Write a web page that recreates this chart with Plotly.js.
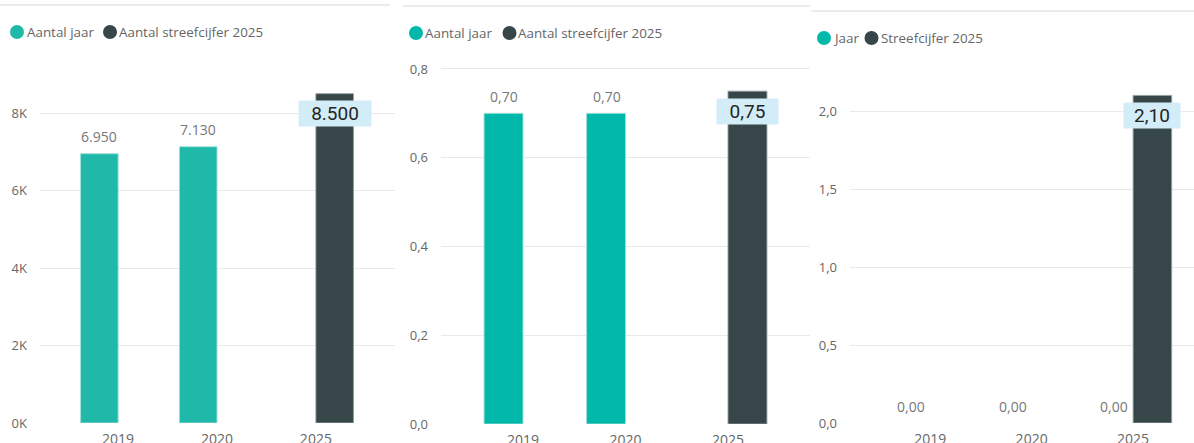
<!DOCTYPE html>
<html>
<head>
<meta charset="utf-8">
<script src="https://cdn.plot.ly/plotly-3.0.1.min.js"></script>
<style>
html,body{margin:0;padding:0;background:#fff;}
#chart{width:1194px;height:443px;}
</style>
</head>
<body>
<div id="chart"></div>
<script>
// ---- data ----
const categories = ['2019', '2020', '2025'];

const p1Names = ['Aantal jaar', 'Aantal streefcijfer 2025'];
const p1Jaar = [6950, 7130, null];
const p1Streef = [null, null, 8500];
const p1TickVals = [0, 2000, 4000, 6000, 8000];
const p1TickText = ['0K', '2K', '4K', '6K', '8K'];

const p2Names = ['Aantal jaar', 'Aantal streefcijfer 2025'];
const p2Jaar = [0.70, 0.70, null];
const p2Streef = [null, null, 0.75];
const p2TickVals = [0, 0.2, 0.4, 0.6, 0.8];

const p3Names = ['Jaar', 'Streefcijfer 2025'];
const p3Jaar = [0, 0, 0];
const p3Streef = [null, null, 2.10];
const p3TickVals = [0, 0.5, 1.0, 1.5, 2.0];

// ---- helpers ----
const fmtThousands = v => Math.round(v).toString().replace(/\B(?=(\d{3})+(?!\d))/g, '.');
const fmtDec2 = v => v.toFixed(2).replace('.', ',');
const fmtDec1 = v => v.toFixed(1).replace('.', ',');

const W = 1194, H = 443;
const px = x => x / W;
const py = y => (H - y) / H;

const FONT = 'Open Sans, Noto Sans, sans-serif';
const GRAY = '#666666';
const TEAL1 = '#20b9a9';
const TEAL = '#01b8aa';
const DARK = '#374649';

const panels = [
  {names: p1Names, jaar: p1Jaar, streef: p1Streef, teal: TEAL1, fmt: fmtThousands,
   xd: [px(40), px(395)], xr: [-0.79, 2.80], yd: [py(423), py(74.25)], yr: [0, 9000],
   tickvals: p1TickVals, ticktext: p1TickText, boxW: 70,
   legend: {y: 32, c1: 17, t1: 25, c2: 110, t2: 117}, topLine: {y: 5, x0: 0, x1: 390}},
  {names: p2Names, jaar: p2Jaar, streef: p2Streef, teal: TEAL, fmt: fmtDec2,
   xd: [px(441), px(810)], xr: [-0.80, 2.80], yd: [py(424), py(60.1)], yr: [0, 0.82],
   tickvals: p2TickVals, ticktext: p2TickVals.map(fmtDec1), boxW: 59,
   legend: {y: 33, c1: 416, t1: 423, c2: 509.5, t2: 516}, topLine: {y: 6, x0: 403, x1: 810}},
  {names: p3Names, jaar: p3Jaar, streef: p3Streef, teal: TEAL, fmt: fmtDec2,
   xd: [px(850), 1], xr: [-0.79, 2.60], yd: [py(423), py(64.2)], yr: [0, 2.3],
   tickvals: p3TickVals, ticktext: p3TickVals.map(fmtDec1), boxW: 54,
   legend: {y: 38, c1: 824, t1: 831, c2: 871.5, t2: 879}, topLine: {y: 11, x0: 811, x1: 1194}}
];

const traces = [];
const annotations = [];
const shapes = [];
const layout = {
  width: W, height: H,
  margin: {l: 0, r: 0, t: 0, b: 0},
  paper_bgcolor: '#ffffff', plot_bgcolor: '#ffffff',
  showlegend: false,
  barmode: 'group',
  bargap: 0.24,
  bargroupgap: 0,
  separators: ',.',
  font: {family: FONT, color: GRAY, size: 12}
};

panels.forEach((p, i) => {
  const n = i + 1;
  const xa = 'x' + (n === 1 ? '' : n), ya = 'y' + (n === 1 ? '' : n);
  const xk = 'xaxis' + (n === 1 ? '' : n), yk = 'yaxis' + (n === 1 ? '' : n);

  traces.push({type: 'bar', name: p.names[0], x: categories, y: p.jaar, xaxis: xa, yaxis: ya,
    marker: {color: p.teal, line: {color: 'rgba(160,225,218,0.9)', width: p.jaar.map(v => v ? 1 : 0)}},
    hoverinfo: 'skip'});
  traces.push({type: 'bar', name: p.names[1], x: categories, y: p.streef, xaxis: xa, yaxis: ya,
    marker: {color: DARK, line: {color: 'rgba(150,160,162,0.9)', width: 1}}, hoverinfo: 'skip'});

  layout[xk] = {domain: p.xd, range: p.xr, type: 'category', anchor: ya,
    showgrid: false, zeroline: false, showline: false, ticks: '',
    tickfont: {family: FONT, size: 14, color: GRAY}, ticklabelstandoff: 6, fixedrange: true};
  layout[yk] = {domain: p.yd, range: p.yr, anchor: xa,
    tickvals: p.tickvals, ticktext: p.ticktext,
    showgrid: true, gridcolor: '#e9e9e9', gridwidth: 1, zeroline: false, showline: false, ticks: '',
    tickfont: {family: FONT, size: 13, color: GRAY}, ticklabelstandoff: 12, fixedrange: true};

  // data labels for "jaar" bars (x given as category index)
  p.jaar.forEach((v, k) => {
    if (v === null) return;
    annotations.push({xref: xa, yref: ya, x: k, y: v, text: p.fmt(v),
      showarrow: false, xshift: -19, yshift: 17, yanchor: 'middle',
      font: {family: FONT, size: 14, color: '#777777'}});
  });
  // boxed labels for target bars
  p.streef.forEach((v, k) => {
    if (v === null) return;
    annotations.push({xref: xa, yref: ya, x: k, y: v, text: p.fmt(v),
      showarrow: false, xshift: 19, yshift: -20, yanchor: 'middle',
      width: p.boxW, height: 23, borderpad: 1, bgcolor: '#d3edf8',
      font: {family: 'Roboto, Open Sans, sans-serif', size: 19, color: '#252423'}});
  });

  // top separator line
  shapes.push({type: 'line', xref: 'paper', yref: 'paper', x0: px(p.topLine.x0), x1: px(p.topLine.x1),
    y0: py(p.topLine.y), y1: py(p.topLine.y), line: {color: '#ececec', width: 2}});

  // legend (circles + text)
  const L = p.legend;
  [[L.c1, L.t1, p.teal, p.names[0]], [L.c2, L.t2, DARK, p.names[1]]].forEach(([c, t, col, name]) => {
    shapes.push({type: 'circle', xref: 'paper', yref: 'paper', xsizemode: 'pixel', ysizemode: 'pixel',
      xanchor: px(c), yanchor: py(L.y), x0: -7, x1: 7, y0: -7, y1: 7,
      fillcolor: col, line: {width: 0}});
    annotations.push({xref: 'paper', yref: 'paper', x: px(t), y: py(L.y), xanchor: 'left', yanchor: 'middle',
      text: name, showarrow: false, font: {family: FONT, size: 13.4, color: GRAY}});
  });
});

layout.annotations = annotations;
layout.shapes = shapes;

Plotly.newPlot('chart', traces, layout, {displayModeBar: false, staticPlot: true});
</script>
</body>
</html>
